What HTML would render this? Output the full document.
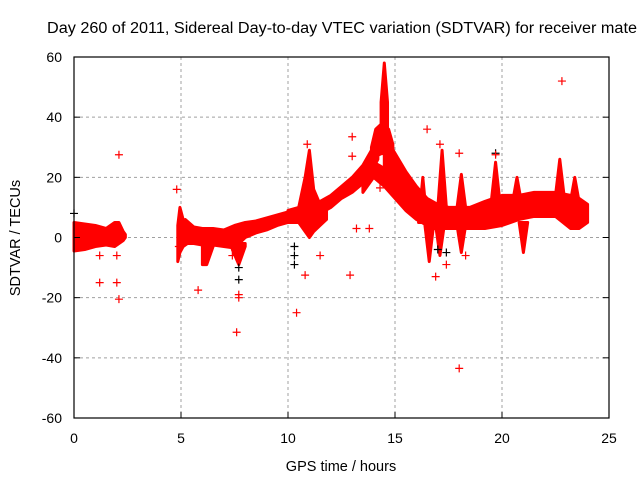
<!DOCTYPE html>
<html><head><meta charset="utf-8"><style>
html,body{margin:0;padding:0;background:#fff;}
svg{display:block;font-family:"Liberation Sans",sans-serif;}
</style></head><body>
<svg id="chart" width="640" height="480" viewBox="0 0 640 480">
<rect x="0" y="0" width="640" height="480" fill="#fff"/>
<text x="47" y="33" font-size="15.5" fill="#000" textLength="590" lengthAdjust="spacingAndGlyphs">Day 260 of 2011, Sidereal Day-to-day VTEC variation (SDTVAR) for receiver mate</text>
<g id="grid"></g>
<g id="marks"></g>
<g id="axes"></g>
<text x="341" y="471" font-size="14.5" text-anchor="middle">GPS time / hours</text>
<text transform="translate(20,238) rotate(-90)" font-size="14.5" text-anchor="middle">SDTVAR / TECUs</text>
</svg>
<script>
const xTicks = [0,5,10,15,20,25];
const yTicks = [-60,-40,-20,0,20,40,60];
// dense bands: time, lower, upper (TECU)
const bandA_t = [0,0.5,1,1.5,1.9,2.1,2.3,2.4];
const bandA_lo = [-4.5,-4,-3,-2.5,-3,-2,-1,0];
const bandA_hi = [5,4.5,4,3,5,5,2,1];
const bandB1_t = [4.85,4.95,5.1,5.3];
const bandB1_lo = [-8,-5,-3,-2];
const bandB1_hi = [4,10,6,4];
const bandB_t = [5.2,5.6,6.0,6.5,7.0,7.5,8.0,8.5,9.0,9.5,10.0,10.5];
const bandB_lo = [-2,-2,-2.5,-2.5,-3,-3.5,0,1.5,2.5,4,5,6];
const bandB_hi = [6,3.5,3,3,2.5,4,5,5.5,6.5,7.5,8.5,9.5];
const bandB2_t = [6.0,6.2,6.5];
const bandB2_lo = [-9,-9,-3];
const bandB2_hi = [-2,-2,-2];
const bandB3_t = [7.4,7.7,8.0];
const bandB3_lo = [-4,-9,-3];
const bandB3_hi = [-2,-2,-2];
const bandC_t = [10,10.5,10.8,11.0,11.2,11.5,11.8];
const bandC_lo = [5,5,2,0,2,4,6];
const bandC_hi = [9,10,20,29,16,11,12];
const bandD_t = [11.5,12,12.5,13,13.5,13.9,14.2];
const bandD_lo = [8,10,13,15,18,22,26];
const bandD_hi = [12,14,17,20,24,29,32];
const bandE_t = [13.9,14.1,14.4,14.7,14.9];
const bandE_lo = [26,27,28,27,25];
const bandE_hi = [30,36,38,36,31];
const bandS_t = [14.35,14.5,14.65];
const bandS_lo = [30,30,30];
const bandS_hi = [45,58,45];
const bandF_t = [14.5,15,15.5,16,16.5,17,17.5];
const bandF_lo = [24,18,12,7,4,3,3];
const bandF_hi = [34,28,22,17,13,11,10];
const bandG_t = [13.5,14,14.5,15,15.5,16,16.5];
const bandG_lo = [15,20,17,13,9,6,4];
const bandG_hi = [20,25,23,19,15,12,10];
const bandH_t = [16.8,17.5,18.5,19.2,20,20.8,21.5,22.5,23.2,23.6,24.0];
const bandH_lo = [3,3,3,3,4,6,7,7,3,3,5];
const bandH_hi = [11,10,10,12,14,14,15,15,14,13,11];
// narrow spikes from the band body
const spikeT = [17.2,18.1,19.7,20.7,22.7,23.4,16.6,17.1,18.1,21.0,16.3];
const spikeBase = [10,10,12,12,14,12,4,4,4,5,5];
const spikePeak = [29,21,25,20,26,20,-8,-6,-5,-5,20];
// isolated outliers (red)
const outT = [2.1,1.2,2.0,2.1,1.2,2.0,4.8,5.8,7.6,7.7,7.7,10.4,12.9,13.0,13.2,18.0,22.8,16.5,17.1,18.0,19.7,10.9,13.8,14.3,4.9,7.4,13.0,16.9,17.4,18.3,11.5,10.8];
const outV = [27.5,-15,-15,-20.5,-6,-6,16,-17.5,-31.5,-20,-19,-25,-12.5,33.5,3,-43.5,52,36,31,28,27.5,31,3,16.5,-3,-6,27,-13,-9,-6,-6,-12.5];
// black series (mostly hidden)
const blkT = [0,10.3,10.3,10.3,7.7,7.7,17.0,17.4,19.7];
const blkV = [8,-3,-6,-9,-14,-10,-4,-5,28];

const X0=74,X1=609,Y0=418,Y1=57;
const sx = t => X0 + (t-0)/(25-0)*(X1-X0);
const sy = v => Y0 - (v+60)/120*(Y0-Y1);
const NS='http://www.w3.org/2000/svg';
const grid=document.getElementById('grid'),marks=document.getElementById('marks'),axes=document.getElementById('axes');
function mk(tag,attrs,parent){const e=document.createElementNS(NS,tag);for(const k in attrs)e.setAttribute(k,attrs[k]);parent.appendChild(e);return e;}

xTicks.forEach(t=>{
  if(t>0&&t<25){const g=mk('line',{x1:sx(t),x2:sx(t),y1:Y1,y2:Y0,stroke:'#a0a0a0','stroke-dasharray':'3,3'},grid);
  
  }
  const tk=mk('line',{x1:sx(t),x2:sx(t),y1:Y0,y2:Y0-6,stroke:'#000'},axes);
  
  
  const tl=mk('text',{x:sx(t),y:Y0+25,'font-size':'14','text-anchor':'middle'},axes);
  tl.textContent=t;
  
  
});
yTicks.forEach(v=>{
  if(v>-60&&v<60){const g=mk('line',{x1:X0,x2:X1,y1:sy(v),y2:sy(v),stroke:'#a0a0a0','stroke-dasharray':'3,3'},grid);
  
  }
  const tk=mk('line',{x1:X0,x2:X0+6,y1:sy(v),y2:sy(v),stroke:'#000'},axes);
  
  
  const tk2=mk('line',{x1:X1,x2:X1-6,y1:sy(v),y2:sy(v),stroke:'#000'},axes);
  
  
  const tl=mk('text',{x:X0-12,y:sy(v)+5,'font-size':'14','text-anchor':'end'},axes);
  tl.textContent=v;
  
  
});
const border=mk('rect',{x:X0,y:Y1,width:X1-X0,height:Y0-Y1,fill:'none',stroke:'#000','stroke-width':'1.2'},axes);



function band(T,L,H,name){
  let d='M'+sx(T[0])+','+sy(H[0]);
  for(let i=1;i<T.length;i++)d+='L'+sx(T[i])+','+sy(H[i]);
  for(let i=T.length-1;i>=0;i--)d+='L'+sx(T[i])+','+sy(L[i]);
  d+='Z';
  const p=mk('path',{d:d,fill:'#ff0000',stroke:'#ff0000','stroke-width':'3','stroke-linejoin':'round'},marks);
  
  
}
band(bandA_t,bandA_lo,bandA_hi,'band-early');
band(bandB1_t,bandB1_lo,bandB1_hi,'band-spike-5h');
band(bandB_t,bandB_lo,bandB_hi,'band-5-10h');
band(bandB2_t,bandB2_lo,bandB2_hi,'band-dip-6h');
band(bandB3_t,bandB3_lo,bandB3_hi,'band-dip-7h');
band(bandC_t,bandC_lo,bandC_hi,'band-10-12h');
band(bandD_t,bandD_lo,bandD_hi,'band-rising');
band(bandE_t,bandE_lo,bandE_hi,'band-peak');
band(bandS_t,bandS_lo,bandS_hi,'band-spike-14h');
band(bandF_t,bandF_lo,bandF_hi,'band-descending');
band(bandG_t,bandG_lo,bandG_hi,'band-lower-branch');
band(bandH_t,bandH_lo,bandH_hi,'band-late');
spikeT.forEach((t,i)=>{
  const d='M'+sx(t-0.2)+','+sy(spikeBase[i])+'L'+sx(t)+','+sy(spikePeak[i])+'L'+sx(t+0.2)+','+sy(spikeBase[i])+'Z';
  const p=mk('path',{d:d,fill:'#ff0000',stroke:'#ff0000','stroke-width':'3','stroke-linejoin':'round'},marks);
  
  
});
function plus(t,v,col,name){
  const x=sx(t),y=sy(v);
  const p=mk('path',{d:'M'+(x-4)+','+y+'H'+(x+4)+'M'+x+','+(y-4)+'V'+(y+4),stroke:col,'stroke-width':'1.2',fill:'none'},marks);
  
  
}
blkT.forEach((t,i)=>plus(t,blkV[i],'#000','black-point'));
outT.forEach((t,i)=>plus(t,outV[i],'#ff0000','outlier-point'));
</script>
</body></html>
